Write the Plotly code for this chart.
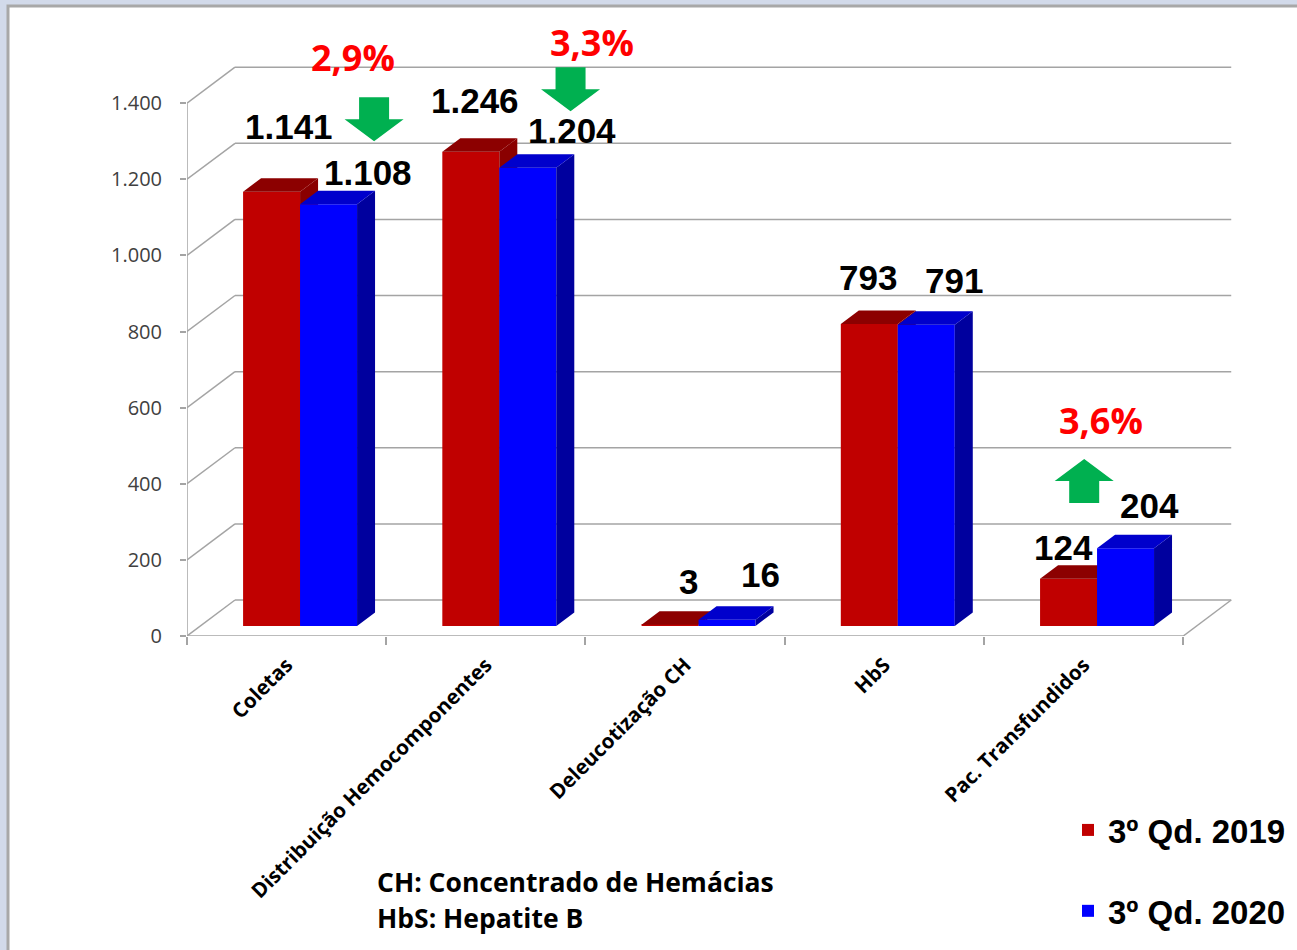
import plotly.graph_objects as go

# ---------------- data ----------------
categories = ["Coletas", "Distribuição Hemocomponentes", "Deleucotização CH", "HbS", "Pac. Transfundidos"]
series_names = ["3º Qd. 2019", "3º Qd. 2020"]
values_2019 = [1141, 1246, 3, 793, 124]
values_2020 = [1108, 1204, 16, 791, 204]
value_labels_2019 = ["1.141", "1.246", "3", "793", "124"]
value_labels_2020 = ["1.108", "1.204", "16", "791", "204"]
y_tick_values = [0, 200, 400, 600, 800, 1000, 1200, 1400]
y_tick_labels = ["0", "200", "400", "600", "800", "1.000", "1.200", "1.400"]
change_labels = ["2,9%", "3,3%", "3,6%"]
change_category = [0, 1, 4]
change_direction = ["down", "down", "up"]
footnotes = ["CH: Concentrado de Hemácias", "HbS: Hepatite B"]

# ---------------- geometry / style ----------------
W, H = 1297, 950
XMAX, YMAX = 5.3, 1650
PXX = 1056 / 5.3          # px per category unit
PXY = 571 / 1500          # px per value unit
ML = 187
BOT = 636                 # pixel row of value 0 (front floor edge)
PW = XMAX * PXX
PH = YMAX * PXY
MT = BOT - PH
MR = W - ML - PW
MB = H - BOT

def ux(px):
    return px / PXX

def uy(px):
    return px / PXY

n = len(categories)
DEPTH_X, DEPTH_Y = ux(48), uy(36)                  # floor depth vector
FRONT_X, FRONT_Y = 0.28 * DEPTH_X, 0.28 * DEPTH_Y  # bar front plane
BAR_DX, BAR_DY = 0.375 * DEPTH_X, 0.375 * DEPTH_Y  # bar depth
BAR_W = 0.286
GAP = 0.214
BASE = FRONT_Y

RED_FRONT, RED_TOP, RED_SIDE = "#C00000", "#8C0000", "#8A0000"
BLUE_FRONT, BLUE_TOP, BLUE_SIDE = "#0000FF", "#0000CC", "#00009E"
GRID = "#A4A4A4"
GREEN = "#00B050"

# label nudges in px (dx, dy above front top)
red_nudge = [(17, 65), (4, 51), (18, 43), (-1, 47), (-5, 31)]
blue_nudge = [(39, 32), (44, 37), (33, 45), (28, 44), (24, 43)]
# percent label / arrow placement relative to category start
pct_pos = [(0.833, 1521), (1.033, 1560), (0.588, 567)]
arrow_pos = [(0.939, 1300), (0.925, 1379), (0.503, 465)]

fig = go.Figure()

def add_series(vals, name, offset, c_front, c_top, c_side, z0, group):
    fig.add_trace(go.Bar(
        x=list(range(n)), y=vals, base=BASE, offset=offset + FRONT_X, width=BAR_W,
        marker=dict(color=c_front, line=dict(width=0)), name=name,
        legendgroup=group, zorder=z0, hoverinfo="skip"))
    sx, sy, tx, ty = [], [], [], []
    for i, v in enumerate(vals):
        xl = i + offset + FRONT_X
        xr = xl + BAR_W
        h = BASE + v
        sx += [xr, xr + BAR_DX, xr + BAR_DX, xr, xr, None]
        sy += [BASE, BASE + BAR_DY, h + BAR_DY, h, BASE, None]
        tx += [xl, xr, xr + BAR_DX, xl + BAR_DX, xl, None]
        ty += [h, h, h + BAR_DY, h + BAR_DY, h, None]
    fig.add_trace(go.Scatter(x=sx, y=sy, mode="none", fill="toself", fillcolor=c_side,
                             showlegend=False, hoverinfo="skip", zorder=z0 + 1))
    fig.add_trace(go.Scatter(x=tx, y=ty, mode="none", fill="toself", fillcolor=c_top,
                             showlegend=False, hoverinfo="skip", zorder=z0 + 2))

add_series(values_2019, series_names[0], GAP, RED_FRONT, RED_TOP, RED_SIDE, 1, "a")
add_series(values_2020, series_names[1], GAP + BAR_W, BLUE_FRONT, BLUE_TOP, BLUE_SIDE, 4, "b")

def pxp(px):
    return (px - ML) / PW

def pyp(py):
    return (BOT - py) / PH

shapes = []
# page frame
shapes.append(dict(type="rect", xref="paper", yref="paper", x0=pxp(8), y0=pyp(6),
                   x1=pxp(W + 20), y1=pyp(H + 20), fillcolor="white",
                   line=dict(color="#A8A8A8", width=3), layer="below"))
# walls and floor
for v in y_tick_values:
    shapes.append(dict(type="line", x0=0, y0=v, x1=DEPTH_X, y1=v + DEPTH_Y,
                       line=dict(color=GRID, width=1.5), layer="below"))
    shapes.append(dict(type="line", x0=DEPTH_X, y0=v + DEPTH_Y, x1=n + DEPTH_X, y1=v + DEPTH_Y,
                       line=dict(color=GRID, width=1.5), layer="below"))
shapes.append(dict(type="line", x0=0, y0=0, x1=n, y1=0, line=dict(color=GRID, width=1.5), layer="below"))
shapes.append(dict(type="line", x0=n, y0=0, x1=n + DEPTH_X, y1=DEPTH_Y,
                   line=dict(color=GRID, width=1.5), layer="below"))
shapes.append(dict(type="line", x0=0, y0=0, x1=0, y1=y_tick_values[-1],
                   line=dict(color=GRID, width=1.5), layer="below"))

# arrows
HEAD_W, SHAFT_W, HEAD_H, TOTAL_H = 59, 30, 22, 44
for k, ci in enumerate(change_category):
    cx = ci + arrow_pos[k][0]
    tip = arrow_pos[k][1]
    s = 1 if change_direction[k] == "down" else -1
    hb = tip + s * uy(HEAD_H)
    tail = tip + s * uy(TOTAL_H)
    hw, sw = ux(HEAD_W) / 2, ux(SHAFT_W) / 2
    pts = [(cx, tip), (cx + hw, hb), (cx + sw, hb), (cx + sw, tail),
           (cx - sw, tail), (cx - sw, hb), (cx - hw, hb)]
    path = "M" + " L".join(f"{x:.4f},{y:.2f}" for x, y in pts) + " Z"
    shapes.append(dict(type="path", path=path, fillcolor=GREEN, line=dict(width=0)))

annotations = []
for i in range(n):
    for vals, labs, off, nud in ((values_2019, value_labels_2019, GAP, red_nudge),
                                 (values_2020, value_labels_2020, GAP + BAR_W, blue_nudge)):
        annotations.append(dict(
            x=i + off + FRONT_X + BAR_W / 2, y=BASE + vals[i], text=labs[i],
            xshift=nud[i][0], yshift=nud[i][1], showarrow=False,
            xanchor="center", yanchor="middle",
            font=dict(family="Liberation Sans, Arial", size=35, color="black", weight="bold")))
for k, ci in enumerate(change_category):
    annotations.append(dict(
        x=ci + pct_pos[k][0], y=pct_pos[k][1], text=change_labels[k], showarrow=False,
        xanchor="center", yanchor="middle",
        font=dict(family="Open Sans", size=36, color="#FF0000", weight="bold")))
for j, t in enumerate(footnotes):
    annotations.append(dict(
        xref="paper", yref="paper", x=pxp(375), y=pyp(882 + 36 * j), text=t,
        showarrow=False, xanchor="left", yanchor="middle",
        font=dict(family="Open Sans", size=26.5, color="black", weight="bold")))

fig.update_layout(
    width=W, height=H, margin=dict(l=ML, r=MR, t=MT, b=MB, autoexpand=False),
    paper_bgcolor="#D2DAEA", plot_bgcolor="rgba(0,0,0,0)",
    barmode="overlay", shapes=shapes, annotations=annotations,
    showlegend=True,
    legend=dict(x=pxp(1068), y=pyp(802), xanchor="left", yanchor="top",
                font=dict(family="Liberation Sans, Arial", size=33, color="black", weight="bold"),
                tracegroupgap=35, bgcolor="rgba(0,0,0,0)", traceorder="grouped"),
    xaxis=dict(range=[0, XMAX], tickvals=[i + 0.5 for i in range(n)], ticktext=categories,
               tickangle=-45, ticks="", showgrid=False, zeroline=False, showline=False,
               ticklabelstandoff=12,
               tickfont=dict(family="Open Sans", size=20.5, color="black", weight="bold"),
               minor=dict(tickvals=list(range(n + 1)), ticks="outside", ticklen=8,
                          tickcolor=GRID, tickwidth=1.5, showgrid=False),
               fixedrange=True),
    yaxis=dict(range=[0, YMAX], tickvals=y_tick_values, ticktext=y_tick_labels,
               ticks="outside", ticklen=6, tickcolor=GRID, tickwidth=1.5,
               showgrid=False, zeroline=False, showline=False, ticklabelstandoff=14,
               tickfont=dict(family="Open Sans", size=20, color="#404040"),
               fixedrange=True),
)

fig.write_html("out.html", config={"displayModeBar": False},
               post_script="document.body.style.margin='0px';")
